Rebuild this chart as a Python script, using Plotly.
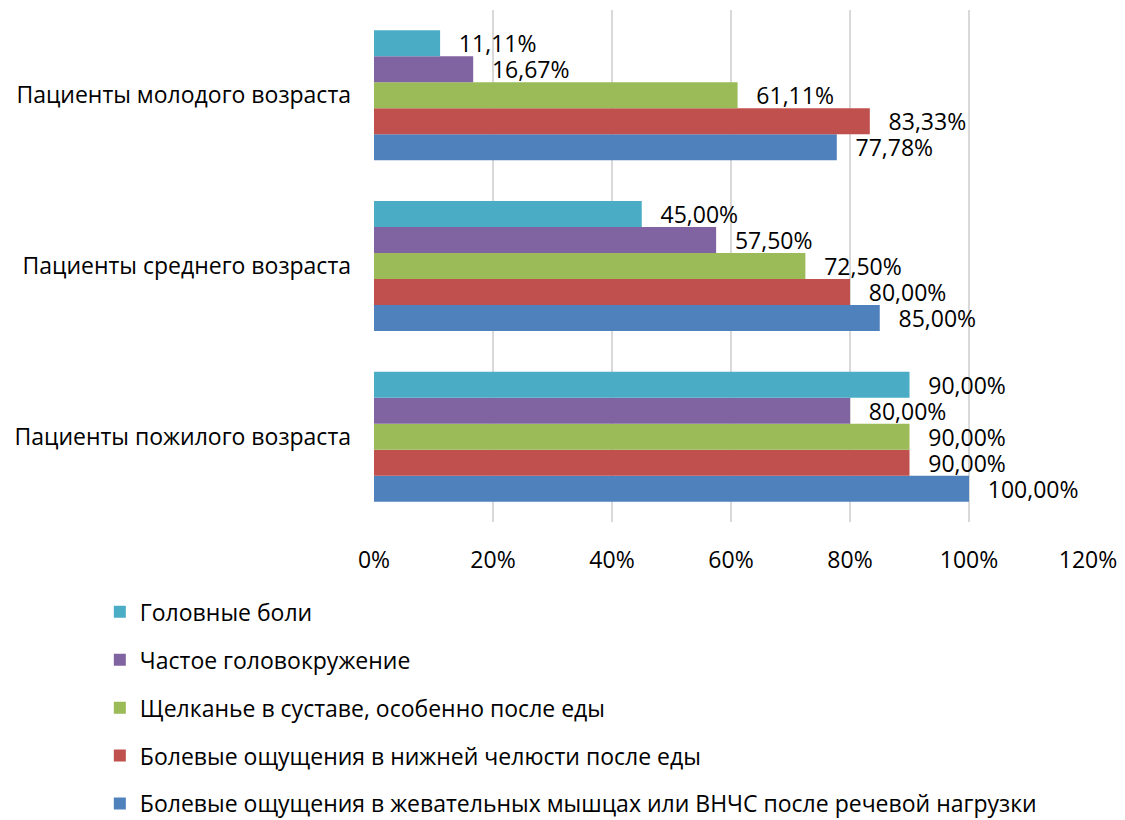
import plotly.graph_objects as go

categories = ["Пациенты пожилого возраста", "Пациенты среднего возраста", "Пациенты молодого возраста"]

# series listed bottom-to-top within each group
series_names = [
    "Болевые ощущения в жевательных мышцах или ВНЧС после речевой нагрузки",
    "Болевые ощущения в нижней челюсти после еды",
    "Щелканье в суставе, особенно после еды",
    "Частое головокружение",
    "Головные боли",
]
# values per category order: пожилого, среднего, молодого
blue_vals = [1.00, 0.85, 0.7778]
red_vals = [0.90, 0.80, 0.8333]
green_vals = [0.90, 0.725, 0.6111]
purple_vals = [0.80, 0.575, 0.1667]
cyan_vals = [0.90, 0.45, 0.1111]
series_values = [blue_vals, red_vals, green_vals, purple_vals, cyan_vals]
colors = ["#4F81BD", "#C0504D", "#9BBB59", "#8064A2", "#4BACC6"]
legend_ranks = [5, 4, 3, 2, 1]

x_tickvals = [0, 0.2, 0.4, 0.6, 0.8, 1.0, 1.2]

FONT = "Open Sans"
FS = 23

fig = go.Figure()
for name, vals, col, rank in zip(series_names, series_values, colors, legend_ranks):
    fig.add_trace(go.Bar(
        y=categories, x=vals, name=name, orientation="h",
        marker=dict(color=col, line=dict(width=0)),
        texttemplate="\u00a0\u00a0\u2009%{x:.2%}",
        textposition="outside", constraintext="none", cliponaxis=False,
        textfont=dict(family=FONT, size=FS, color="#000000"),
        legendgroup=name, legendrank=rank,
    ))

fig.update_layout(
    width=1125, height=820,
    barmode="group", bargap=0.238, bargroupgap=0,
    separators=", ",
    paper_bgcolor="white", plot_bgcolor="white",
    margin=dict(l=374, r=37, t=10, b=298),
    font=dict(family=FONT, size=FS, color="#000000"),
    xaxis=dict(range=[0, 1.2], tickvals=x_tickvals, tickformat=".0%",
               showgrid=True, gridcolor="#D9D9D9", gridwidth=2,
               zeroline=False, showline=False, ticks="", ticklabelstandoff=22,
               automargin=False,
               tickfont=dict(family=FONT, size=FS, color="#000000")),
    yaxis=dict(categoryorder="array", categoryarray=categories,
               showgrid=False, zeroline=False, showline=False, ticks="",
               ticklabelstandoff=22, automargin=False,
               tickfont=dict(family=FONT, size=FS, color="#000000")),
    legend=dict(orientation="v", traceorder="grouped",
                xref="paper", yref="container", x=-0.384, y=0.28,
                xanchor="left", yanchor="top", tracegroupgap=15,
                font=dict(family=FONT, size=FS, color="#000000"),
                bgcolor="rgba(0,0,0,0)"),
    showlegend=True,
)

fig.write_html("out.html", config={"displayModeBar": False},
               post_script="document.body.style.margin='0';")
